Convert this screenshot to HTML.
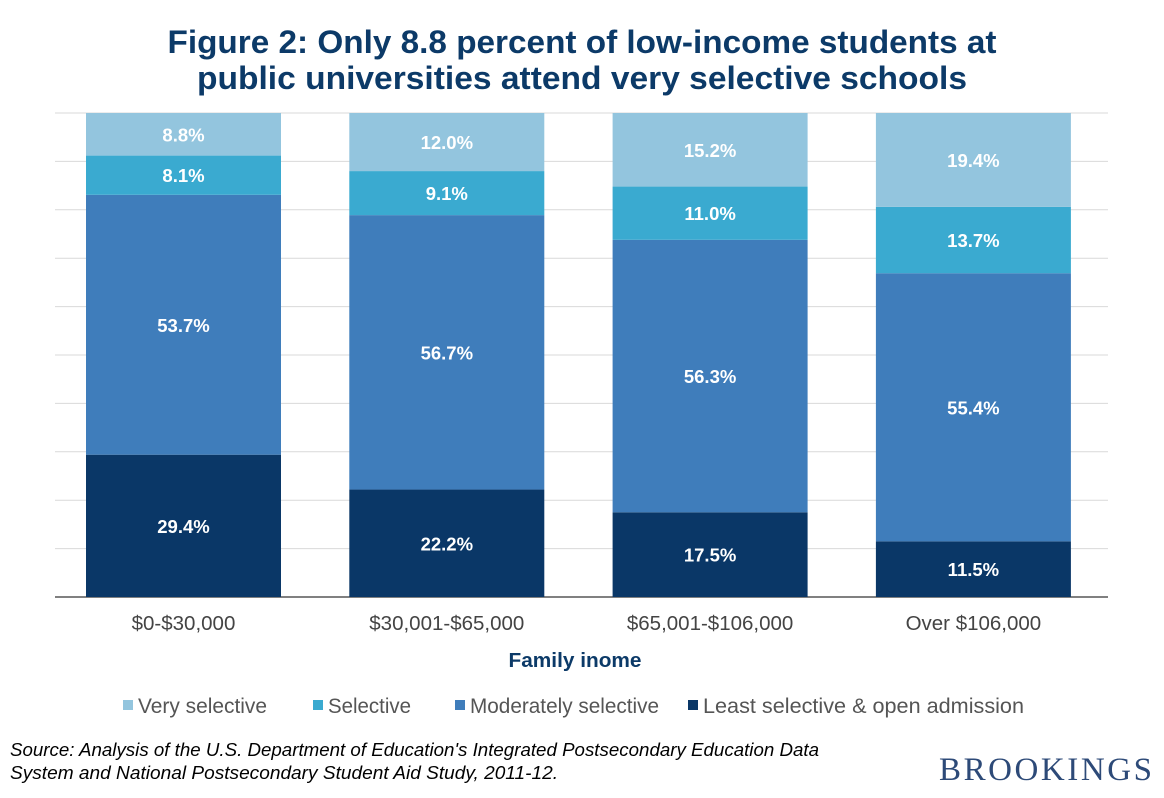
<!DOCTYPE html>
<html><head><meta charset="utf-8"><style>
body{margin:0;width:1164px;height:793px;background:#fff;overflow:hidden;font-family:"Liberation Sans",Arial,sans-serif}
</style></head><body>
<svg width="1164" height="793" xmlns="http://www.w3.org/2000/svg">
<g font-weight="bold" font-size="32" fill="#0c3a68" text-anchor="middle">
<text x="582" y="53" textLength="829" lengthAdjust="spacingAndGlyphs">Figure 2: Only 8.8 percent of low-income students at</text>
<text x="582" y="89" textLength="770" lengthAdjust="spacingAndGlyphs">public universities attend very selective schools</text>
</g>
<g id="grid"></g>
<g id="bars"></g>
<g id="xlabels" font-size="20.5" fill="#444" text-anchor="middle"></g>
<text x="575" y="667" font-size="20.5" font-weight="bold" fill="#0c3a68" text-anchor="middle" textLength="133" lengthAdjust="spacingAndGlyphs">Family inome</text>
<g id="legend" font-size="21" fill="#555"></g>
<g font-size="18.5" font-style="italic" fill="#000">
<text x="10" y="756" textLength="809" lengthAdjust="spacingAndGlyphs">Source: Analysis of the U.S. Department of Education's Integrated Postsecondary Education Data</text>
<text x="10" y="779" textLength="548" lengthAdjust="spacingAndGlyphs">System and National Postsecondary Student Aid Study, 2011-12.</text>
</g>
<text x="1152" y="780" font-family="Liberation Serif,serif" font-size="33" fill="#2d4a78" text-anchor="end" textLength="213">BROOKINGS</text>
</svg>
<script>
const categories=["$0-$30,000","$30,001-$65,000","$65,001-$106,000","Over $106,000"];
const seriesNames=["Least selective & open admission","Moderately selective","Selective","Very selective"];
const least=[29.4,22.2,17.5,11.5];
const moderate=[53.7,56.7,56.3,55.4];
const selective=[8.1,9.1,11.0,13.7];
const very=[8.8,12.0,15.2,19.4];
const colors=["#0a3767","#3f7dbb","#3aaad0","#93c5de"];
const NS="http://www.w3.org/2000/svg";
const top0=113,bot=597,left=55,right=1108;
const y=v=>bot-v/100*(bot-top0);
const bx=i=>86+i*263.3,bw=195;
function mk(t,a,p){const e=document.createElementNS(NS,t);for(const k in a)e.setAttribute(k,a[k]);p.appendChild(e);return e;}
const grid=document.getElementById('grid');
for(let v=0;v<=100;v+=10){const l=mk('line',{x1:left,x2:right,y1:y(v),y2:y(v),stroke:v===0?'#000':'#d9d9d9','stroke-width':1},grid);

}
const bars=document.getElementById('bars');
const series=[least,moderate,selective,very];
categories.forEach((c,i)=>{let cum=0;
series.forEach((s,j)=>{const v=s[i];const y1=y(cum+v),y0=y(cum);
const r=mk('rect',{x:bx(i),y:y1,width:bw,height:y0-y1,fill:colors[j]},bars);


const t=mk('text',{x:bx(i)+bw/2,y:(y0+y1)/2+7,'text-anchor':'middle','font-size':18.5,'font-weight':'bold',fill:'#fff'},bars);
t.textContent=v.toFixed(1)+'%';


cum+=v;});
const xl=mk('text',{x:bx(i)+bw/2,y:630},document.getElementById('xlabels'));xl.textContent=c;

});
const lg=document.getElementById('legend');
const items=[[3,138,129],[2,328,83],[1,470,189],[0,703,321]];
items.forEach(([j,x,w])=>{const g=mk('g',{},lg);


mk('rect',{x:x-15,y:700,width:10,height:10,fill:colors[j]},g);
const t=mk('text',{x:x,y:713,textLength:w,lengthAdjust:'spacingAndGlyphs'},g);t.textContent=seriesNames[j];});
</script>
</body></html>
